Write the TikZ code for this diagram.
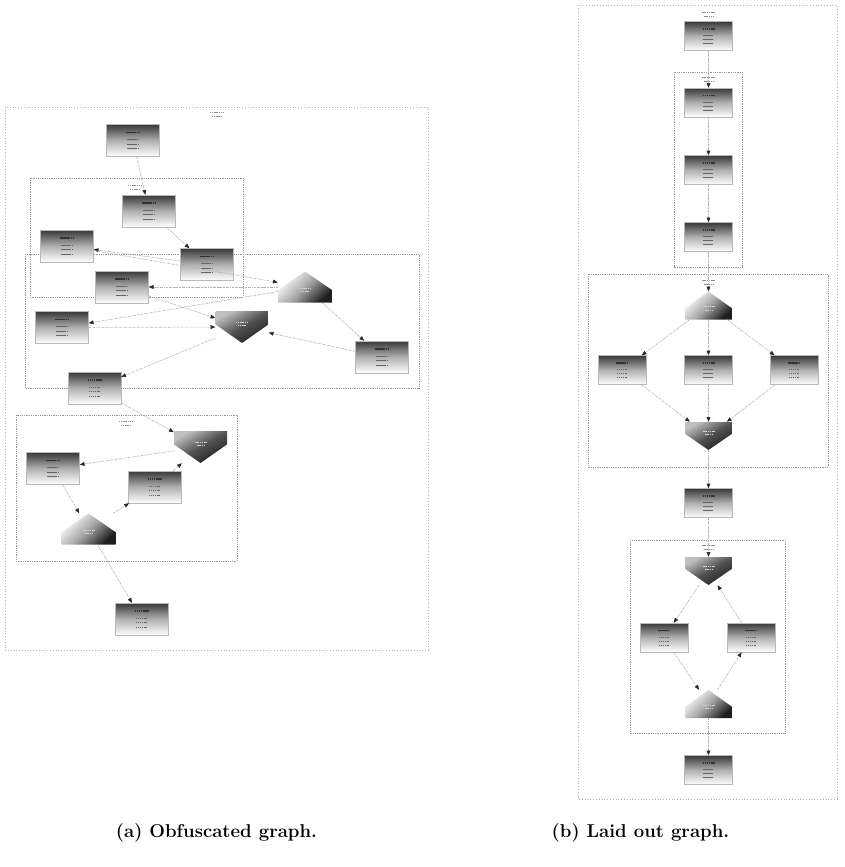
\documentclass[tikz,border=0pt]{standalone}
\usetikzlibrary{arrows.meta,calc}
\begin{document}
\begin{tikzpicture}[x=1pt,y=-1pt,
  outerframe/.style={draw=gray!60, line width=0.8pt, dotted},
  clusterframe/.style={draw=gray!80, line width=0.8pt, densely dotted},
  titlebar/.style={line width=1.1pt, draw=black!80, dash pattern=on 1.6pt off 0.5pt},
  textbar/.style={line width=0.9pt, draw=black!60, dash pattern=on 1.6pt off 0.5pt},
  labelbar/.style={line width=0.8pt, draw=black!45, dash pattern=on 1.2pt off 0.6pt},
  shapebar/.style={line width=0.8pt, draw=gray!35, dash pattern=on 1.2pt off 0.6pt},
  % gradient blocks with three register lines
  boxbase/.style={rectangle, inner sep=0pt, draw=gray!55, line width=0.4pt,
    top color=black!78, bottom color=white, middle color=gray!62},
  blockA/.style={boxbase, minimum width=53pt, minimum height=32pt,
    path picture={
      \draw[titlebar] ([shift={(-7,-8)}]path picture bounding box.center) -- ++(14,0);
      \foreach \dy in {-1,3.5,8}
        \draw[textbar] ([shift={(-6,\dy)}]path picture bounding box.center) -- ++(11,0);
    }},
  blockB/.style={boxbase, minimum width=48pt, minimum height=29pt,
    path picture={
      \draw[titlebar] ([shift={(-6,-7)}]path picture bounding box.center) -- ++(12,0);
      \foreach \dy in {-0.5,3.5,7.5}
        \draw[textbar] ([shift={(-5.5,\dy)}]path picture bounding box.center) -- ++(10,0);
    }},
  % house-shaped pentagon (point up)
  housebase/.style={rectangle, inner sep=0pt,
    path picture={
      \shade[top color=white, bottom color=black!88, middle color=gray!70, shading angle=45]
        (path picture bounding box.south west) -- (path picture bounding box.south east)
        -- ($(path picture bounding box.south east)!0.4!(path picture bounding box.north east)$)
        -- (path picture bounding box.north)
        -- ($(path picture bounding box.south west)!0.4!(path picture bounding box.north west)$)
        -- cycle;
      \draw[shapebar] ([shift={(-6,1)}]path picture bounding box.center) -- ++(12,0);
      \draw[shapebar] ([shift={(-4,4.5)}]path picture bounding box.center) -- ++(8,0);
    }},
  houseA/.style={housebase, minimum width=54pt, minimum height=31pt},
  houseB/.style={housebase, minimum width=47pt, minimum height=28pt},
  % inverted house (point down)
  invbase/.style={rectangle, inner sep=0pt,
    path picture={
      \shade[top color=gray!50, bottom color=black!88, middle color=black!68, shading angle=30]
        (path picture bounding box.north west) -- (path picture bounding box.north east)
        -- ($(path picture bounding box.north east)!0.42!(path picture bounding box.south east)$)
        -- (path picture bounding box.south)
        -- ($(path picture bounding box.north west)!0.42!(path picture bounding box.south west)$)
        -- cycle;
      \draw[shapebar] ([shift={(-6,-5)}]path picture bounding box.center) -- ++(12,0);
      \draw[shapebar] ([shift={(-4,-1.5)}]path picture bounding box.center) -- ++(8,0);
    }},
  invA/.style={invbase, minimum width=53pt, minimum height=32pt},
  invB/.style={invbase, minimum width=47pt, minimum height=28pt},
  conn/.style={draw=gray!60, line width=0.6pt,
    dash pattern=on 2.2pt off 0.8pt on 0.6pt off 0.8pt,
    -{Triangle[length=4.8pt,width=3.8pt,color=black!85]}},
  caption/.style={font=\fontsize{18.6}{21}\selectfont\bfseries}
]
\useasboundingbox (0,0) rectangle (844,867);

% ---------- (a) frames ----------
\draw[outerframe] (5,107) rectangle (428,650);
\draw[clusterframe] (30,178) rectangle (243,297);
\draw[clusterframe] (25,254) rectangle (419,388);
\draw[clusterframe] (16,415) rectangle (237,561);
\draw[labelbar] (210,112) -- ++(14,0);
\draw[labelbar] (212,116.5) -- ++(10,0);
\draw[labelbar] (128,185) -- ++(14,0);
\draw[labelbar] (130,189) -- ++(10,0);
\draw[labelbar] (119,421) -- ++(14,0);
\draw[labelbar] (121,425) -- ++(10,0);

% ---------- (b) frames ----------
\draw[outerframe] (578,5) rectangle (837,799);
\draw[clusterframe] (674,72) rectangle (742,267);
\draw[clusterframe] (588,274) rectangle (828,467);
\draw[clusterframe] (630,540) rectangle (785,733);
\draw[labelbar] (701.5,12) -- ++(14,0);
\draw[labelbar] (703.5,16) -- ++(10,0);
\draw[labelbar] (701.5,77) -- ++(14,0);
\draw[labelbar] (703.5,81) -- ++(10,0);
\draw[labelbar] (701.5,280) -- ++(14,0);
\draw[labelbar] (703.5,284) -- ++(10,0);
\draw[labelbar] (701.5,545) -- ++(14,0);
\draw[labelbar] (703.5,549) -- ++(10,0);

% ---------- (a) nodes ----------
\node[blockA] (aS) at (133,140.5) {};
\node[blockA] (a2) at (149,211) {};
\node[blockA] (a3) at (67,246) {};
\node[blockA] (a4) at (207,264.5) {};
\node[blockA] (a5) at (122,287) {};
\node[houseA] (aA) at (305,287) {};
\node[invA]   (aB) at (242,327) {};
\node[blockA] (a6) at (62,327.5) {};
\node[blockA] (a7) at (382,357) {};
\node[blockA] (a8) at (94.5,388) {};
\node[invA]   (aC) at (200.5,447) {};
\node[blockA] (a9) at (53,468.5) {};
\node[blockA] (a10) at (154.5,487) {};
\node[houseA] (aD) at (88.5,529) {};
\node[blockA] (a11) at (141.5,619) {};

% ---------- (b) nodes ----------
\node[blockB] (bS) at (708.5,36) {};
\node[blockB] (b2) at (708.5,102.5) {};
\node[blockB] (b3) at (708.5,170) {};
\node[blockB] (b4) at (708.5,237) {};
\node[houseB] (bE) at (708.5,305.5) {};
\node[blockB] (bL) at (622,370) {};
\node[blockB] (bM) at (708.5,370) {};
\node[blockB] (bR) at (794,370) {};
\node[invB]   (bF) at (708.5,436) {};
\node[blockB] (bN) at (708.5,503) {};
\node[invB]   (bG) at (708.5,571) {};
\node[blockB] (bP) at (664,637.5) {};
\node[blockB] (bQ) at (751,637.5) {};
\node[houseB] (bH) at (708.5,704) {};
\node[blockB] (bT) at (708.5,770) {};

% ---------- (a) edges ----------
\draw[conn] (aS) -- (a2);
\draw[conn] (a2) -- (a4);
\draw[conn] (a4) -- (a3);
\draw[conn] (a3) -- (aA);
\draw[conn] (aA) -- (a5);
\draw[conn] (aA) -- (a6);
\draw[conn] (aA) -- (a7);
\draw[conn] (a5) -- (aB);
\draw[conn] (a6) -- (aB);
\draw[conn] (a7) -- (aB);
\draw[conn] (aB) -- (a8);
\draw[conn] (a8) -- (aC);
\draw[conn] (aC) -- (a9);
\draw[conn] (a9) -- (aD);
\draw[conn] (aD) -- (a10);
\draw[conn] (a10) -- (aC);
\draw[conn] (aD) -- (a11);

% ---------- (b) edges ----------
\draw[conn] (bS) -- (b2);
\draw[conn] (b2) -- (b3);
\draw[conn] (b3) -- (b4);
\draw[conn] (b4) -- (bE);
\draw[conn] (bE) -- (bL);
\draw[conn] (bE) -- (bM);
\draw[conn] (bE) -- (bR);
\draw[conn] (bL) -- (bF);
\draw[conn] (bM) -- (bF);
\draw[conn] (bR) -- (bF);
\draw[conn] (bF) -- (bN);
\draw[conn] (bN) -- (bG);
\draw[conn] (bG) -- (bP);
\draw[conn] (bP) -- (bH);
\draw[conn] (bH) -- (bQ);
\draw[conn] (bQ) -- (bG);
\draw[conn] (bH) -- (bT);

% ---------- captions ----------
\node[caption] (capA) at (216.5,833) {(a) Obfuscated graph.};
\node[caption] (capB) at (640.5,833) {(b) Laid out graph.};
\end{tikzpicture}
\end{document}
